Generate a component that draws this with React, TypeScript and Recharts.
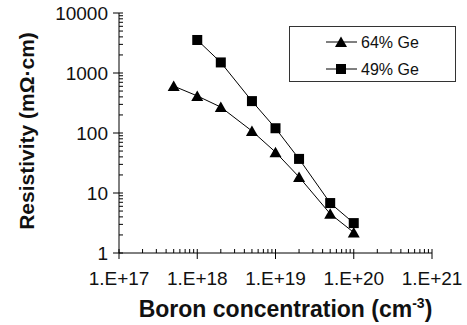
import React from 'react';
import { ScatterChart, Scatter, XAxis, YAxis, Label } from 'recharts';

const ge64X = [5e17, 1e18, 2e18, 5e18, 1e19, 2e19, 5e19, 1e20];
const ge64Y = [605, 415, 270, 108, 48, 18.5, 4.5, 2.2];
const ge49X = [1e18, 2e18, 5e18, 1e19, 2e19, 5e19, 1e20];
const ge49Y = [3550, 1500, 340, 120, 37, 6.8, 3.15];
const xDecades = [1e17, 1e18, 1e19, 1e20, 1e21];
const xTickLabels = ['1.E+17', '1.E+18', '1.E+19', '1.E+20', '1.E+21'];
const yDecades = [1, 10, 100, 1000, 10000];
const yTickLabels = ['1', '10', '100', '1000', '10000'];
const seriesNames = ['64% Ge', '49% Ge'];

const FONT = "'Liberation Sans', Arial, Helvetica, sans-serif";

const ge64 = ge64X.map((x, i) => ({ x, y: ge64Y[i] }));
const ge49 = ge49X.map((x, i) => ({ x, y: ge49Y[i] }));

const withMinors = (decades: number[]) =>
  decades.flatMap((d, i) =>
    i < decades.length - 1 ? [1, 2, 3, 4, 5, 6, 7, 8, 9].map((m) => m * d) : [d]
  );
const xTicks = withMinors(xDecades);
const yTicks = withMinors(yDecades);

const XTick = (props: any) => {
  const { x, y, payload } = props;
  const i = xDecades.indexOf(payload.value);
  if (i >= 0) {
    return (
      <g>
        <line x1={x} x2={x} y1={y - 4} y2={y + 6} stroke="#000" strokeWidth={1} />
        <text x={x} y={y + 32} textAnchor="middle" fontFamily={FONT} fontSize={19} fill="#111">
          {xTickLabels[i]}
        </text>
      </g>
    );
  }
  return <line x1={x} x2={x} y1={y - 4} y2={y} stroke="#000" strokeWidth={1} />;
};

const YTick = (props: any) => {
  const { x, y, payload } = props;
  const i = yDecades.indexOf(payload.value);
  if (i >= 0) {
    return (
      <g>
        <line x1={x - 6} x2={x + 4} y1={y} y2={y} stroke="#000" strokeWidth={1} />
        <text x={x - 11} y={y + 7} textAnchor="end" fontFamily={FONT} fontSize={19} fill="#111">
          {yTickLabels[i]}
        </text>
      </g>
    );
  }
  return <line x1={x} x2={x + 4} y1={y} y2={y} stroke="#000" strokeWidth={1} />;
};

const TriangleShape = (props: any) => {
  const { cx, cy } = props;
  return <polygon points={`${cx},${cy - 5.5} ${cx + 6},${cy + 5} ${cx - 6},${cy + 5}`} fill="#000" />;
};

const SquareShape = (props: any) => {
  const { cx, cy } = props;
  return <rect x={cx - 5} y={cy - 5} width={10} height={10} fill="#000" />;
};

const LegendBox = () => (
  <div
    style={{
      position: 'absolute',
      left: 289,
      top: 26,
      width: 167,
      height: 56,
      boxSizing: 'border-box',
      border: '1.5px solid #333',
      background: '#fff',
    }}
  >
    <svg width={164} height={53} style={{ display: 'block' }}>
      {[0, 1].map((k) => {
        const cy = 15 + k * 27;
        return (
          <g key={k}>
            <line x1={36} x2={67} y1={cy} y2={cy} stroke="#000" strokeWidth={1} />
            {k === 0 ? (
              <polygon points={`51,${cy - 5.5} 57,${cy + 5} 45,${cy + 5}`} fill="#000" />
            ) : (
              <rect x={46} y={cy - 5} width={10} height={10} fill="#000" />
            )}
            <text x={71} y={cy + 6} fontFamily={FONT} fontSize={16} fill="#111">
              {seriesNames[k]}
            </text>
          </g>
        );
      })}
    </svg>
  </div>
);

export default function App() {
  return (
    <div style={{ position: 'absolute', left: 0, top: 0, width: 467, height: 325, background: '#fff' }}>
      <ScatterChart width={467} height={325} margin={{ top: 13, right: 35, bottom: 0, left: 0 }}>
        <XAxis
          dataKey="x"
          type="number"
          scale="log"
          domain={[1e17, 1e21]}
          allowDataOverflow
          ticks={xTicks}
          interval={0}
          tick={<XTick />}
          tickLine={false}
          tickSize={0}
          tickMargin={0}
          height={72}
          axisLine={{ stroke: '#000', strokeWidth: 1 }}
        >
          <Label
            content={(p: any) => {
              const vb = p.viewBox || {};
              return (
                <text
                  x={vb.x + vb.width / 2 + 10}
                  y={317}
                  textAnchor="middle"
                  fontFamily={FONT}
                  fontWeight="bold"
                  fontSize={23}
                  fill="#111"
                >
                  Boron concentration (cm
                  <tspan fontSize={14} dy={-9}>-3</tspan>
                  <tspan dy={9}>)</tspan>
                </text>
              );
            }}
          />
        </XAxis>
        <YAxis
          dataKey="y"
          type="number"
          scale="log"
          domain={[1, 10000]}
          allowDataOverflow
          ticks={yTicks}
          interval={0}
          tick={<YTick />}
          tickLine={false}
          tickSize={0}
          tickMargin={0}
          width={119}
          axisLine={{ stroke: '#000', strokeWidth: 1 }}
        >
          <Label
            content={(p: any) => {
              const vb = p.viewBox || {};
              const cy = vb.y + vb.height / 2 - 2;
              return (
                <text
                  x={34}
                  y={cy}
                  transform={`rotate(-90 34 ${cy})`}
                  textAnchor="middle"
                  fontFamily={FONT}
                  fontWeight="bold"
                  fontSize={21}
                  fill="#111"
                >
                  Resistivity (mΩ·cm)
                </text>
              );
            }}
          />
        </YAxis>
        <Scatter
          name={seriesNames[0]}
          data={ge64}
          fill="#000"
          line={{ stroke: '#000', strokeWidth: 1 }}
          lineType="joint"
          shape={<TriangleShape />}
          isAnimationActive={false}
        />
        <Scatter
          name={seriesNames[1]}
          data={ge49}
          fill="#000"
          line={{ stroke: '#000', strokeWidth: 1 }}
          lineType="joint"
          shape={<SquareShape />}
          isAnimationActive={false}
        />
      </ScatterChart>
      <LegendBox />
    </div>
  );
}
